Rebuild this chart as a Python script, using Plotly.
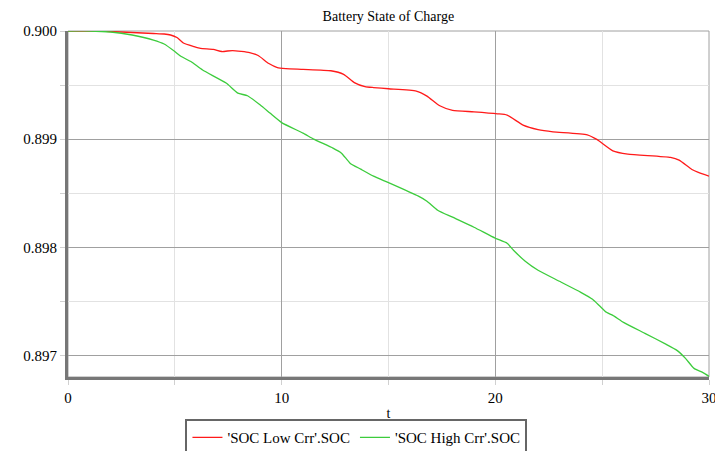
import plotly.graph_objects as go

# Data
t_low = [0, 1, 2, 3, 4, 4.5, 4.8, 5.1, 5.4, 5.9, 6.2, 6.8, 7.2, 7.7, 8.5, 8.9, 9.4, 9.8,
         10.2, 11, 12.3, 12.9, 13.4, 13.9, 14.3, 15, 16.3, 16.8, 17.4, 18, 19, 20.1, 20.55,
         21.3, 22, 22.7, 24.3, 24.75, 25.5, 26.2, 28.2, 28.6, 29.2, 29.5, 30]
soc_low = [0.900000, 0.900000, 0.8999954, 0.8999861, 0.8999769, 0.8999722, 0.8999630,
           0.8999398, 0.8998889, 0.8998565, 0.8998398, 0.8998306, 0.8998102, 0.8998194,
           0.8998009, 0.8997731, 0.8996991, 0.8996620, 0.8996528, 0.8996454, 0.8996324,
           0.8995991, 0.8995231, 0.8994861, 0.8994769, 0.8994657, 0.8994444, 0.8993981,
           0.8993083, 0.8992657, 0.8992528, 0.8992343, 0.8992222, 0.8991296, 0.8990880,
           0.8990676, 0.8990398, 0.8989972, 0.8988917, 0.8988611, 0.8988306, 0.8988056,
           0.8987194, 0.8986917, 0.8986574]

t_high = [0, 1, 2, 3, 4, 4.5, 5, 5.3, 5.75, 6.3, 7.4, 7.95, 8.4, 9, 9.45, 10, 11, 11.5,
          12.4, 12.8, 13.2, 13.7, 14.3, 15, 16.4, 16.8, 17.3, 18, 19, 20, 20.55, 20.85,
          21.4, 22, 23, 24, 24.55, 24.9, 25.2, 25.5, 26, 27, 28, 28.5, 28.9, 29.3, 29.7, 30]
soc_high = [0.900000, 0.900000, 0.8999907, 0.8999630, 0.8999167, 0.8998796, 0.8998102,
            0.8997639, 0.8997176, 0.8996389, 0.8995185, 0.8994259, 0.8994009, 0.8993148,
            0.8992407, 0.8991528, 0.8990556, 0.8990000, 0.8989167, 0.8988704, 0.8987778,
            0.8987222, 0.8986574, 0.8985972, 0.8984722, 0.8984259, 0.8983426, 0.8982778,
            0.8981852, 0.8980833, 0.8980370, 0.8979722, 0.8978704, 0.8977870, 0.8976852,
            0.8975833, 0.8975185, 0.8974537, 0.8973981, 0.8973704, 0.8973056, 0.8972037,
            0.8971019, 0.8970463, 0.8969722, 0.8968796, 0.8968426, 0.8968056]

series_names = ["'SOC Low Crr'.SOC", "'SOC High Crr'.SOC"]
title_text = "Battery State of Charge"
x_title = "t"

FONT = "Liberation Serif, serif"

fig = go.Figure()
fig.add_trace(go.Scatter(x=t_low, y=soc_low, mode="lines", name=series_names[0],
                         line=dict(color="#ff1a1a", width=1.3, shape="spline", smoothing=0.5)))
fig.add_trace(go.Scatter(x=t_high, y=soc_high, mode="lines", name=series_names[1],
                         line=dict(color="#3ccc3c", width=1.3, shape="spline", smoothing=0.5)))

# the page body adds an 8px offset, so the figure is 8px smaller on each side
fig.update_layout(
    width=715, height=443,
    margin=dict(l=60, r=14, t=23, b=74, autoexpand=False),
    paper_bgcolor="white", plot_bgcolor="white",
    font=dict(family=FONT, size=14, color="black"),
    title=dict(text=title_text, x=0.532, xanchor="center", y=0.981, yanchor="middle",
               font=dict(family=FONT, size=14, color="black")),
    showlegend=True,
    legend=dict(orientation="h", x=0.45, xanchor="center", y=-0.122, yanchor="top",
                bordercolor="#666666", borderwidth=2, font=dict(family=FONT, size=15),
                itemwidth=30, tracegroupgap=0),
    shapes=[dict(type="rect", xref="paper", yref="paper", x0=0, x1=1, y0=0, y1=1,
                 line=dict(color="#a0a0a0", width=1), layer="below")],
)

fig.update_xaxes(
    range=[0, 30], dtick=10, tick0=0, automargin=False,
    showgrid=True, gridcolor="#a0a0a0", gridwidth=1,
    minor=dict(dtick=5, showgrid=True, gridcolor="#e2e2e2", ticks="outside",
               ticklen=5, tickcolor="#d0d0d0"),
    ticks="outside", ticklen=5, tickcolor="#d0d0d0",
    showline=True, linecolor="#777777", linewidth=3,
    zeroline=False,
    title=dict(text=x_title, standoff=4, font=dict(family=FONT, size=14)),
    tickfont=dict(family=FONT, size=15, color="black"),
)
fig.update_yaxes(
    range=[0.89680, 0.900], dtick=0.001, tick0=0.897, tickformat=".3f", automargin=False,
    showgrid=True, gridcolor="#a0a0a0", gridwidth=1,
    minor=dict(dtick=0.0005, showgrid=True, gridcolor="#e2e2e2", ticks="outside",
               ticklen=5, tickcolor="#d0d0d0"),
    ticks="outside", ticklen=5, tickcolor="#d0d0d0",
    showline=True, linecolor="#777777", linewidth=3,
    zeroline=False,
    tickfont=dict(family=FONT, size=15, color="black"),
)

fig.write_html("out.html")
